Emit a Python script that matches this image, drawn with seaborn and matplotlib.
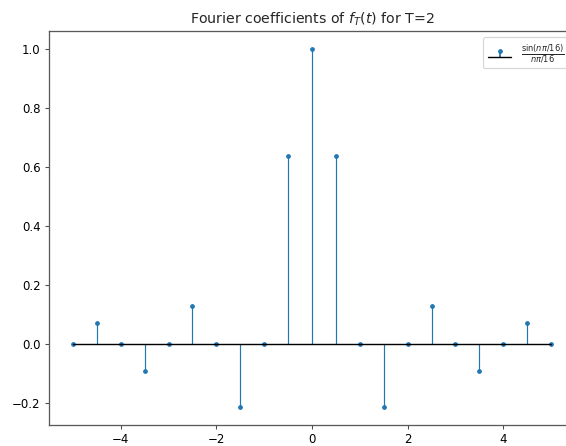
import matplotlib
matplotlib.use("Agg")
import matplotlib.pyplot as plt
import seaborn as sns
import pandas as pd

# Harmonic positions (n/2) and coefficient values
positions = [-5.0, -4.5, -4.0, -3.5, -3.0, -2.5, -2.0, -1.5, -1.0, -0.5, 0.0,
             0.5, 1.0, 1.5, 2.0, 2.5, 3.0, 3.5, 4.0, 4.5, 5.0]
coefficients = [0.0, 0.0707, 0.0, -0.0909, 0.0, 0.1273, 0.0, -0.2122, 0.0, 0.6366, 1.0,
                0.6366, 0.0, -0.2122, 0.0, 0.1273, 0.0, -0.0909, 0.0, 0.0707, 0.0]
y_ticks = [-0.2, 0.0, 0.2, 0.4, 0.6, 0.8, 1.0]
x_ticks = [-4, -2, 0, 2, 4]

df = pd.DataFrame({"t": positions, "c": coefficients})

sns.set_style("ticks")
plt.rcParams["font.family"] = ["DejaVu Sans"]
plt.rcParams["mathtext.fontset"] = "dejavusans"

DPI = 85
fig = plt.figure(figsize=(566 / DPI, 446 / DPI), dpi=DPI)
ax = fig.add_axes([49 / 566, 21.5 / 446, 526 / 566, 393.5 / 446])

markerline, stemlines, baseline = ax.stem(
    df["t"], df["c"], linefmt="C0-", markerfmt="C0.", basefmt="k-",
    label=r"$\frac{\sin(n\pi/16)}{n\pi/16}$")
stemlines.set_linewidth(1.0)
markerline.set_markersize(6)
baseline.set_linewidth(1.2)

ax.set_xticks(x_ticks)
ax.set_xticklabels([f"{v}".replace("-", "\u2212") for v in x_ticks])
ax.set_yticks(y_ticks)
ax.set_yticklabels([f"{v:.1f}".replace("-", "\u2212") for v in y_ticks])
ax.tick_params(labelsize=10, length=3.5, width=0.9, pad=3.5,
               color="0.3", labelcolor="black")
for side in ax.spines.values():
    side.set_color("0.35")
    side.set_linewidth(1.1)

ax.set_title(r"Fourier coefficients of $f_T(t)$ for T=2", fontsize=12)
ax.legend(loc="upper right", fontsize=10)

fig.savefig("out.png", dpi=DPI)
